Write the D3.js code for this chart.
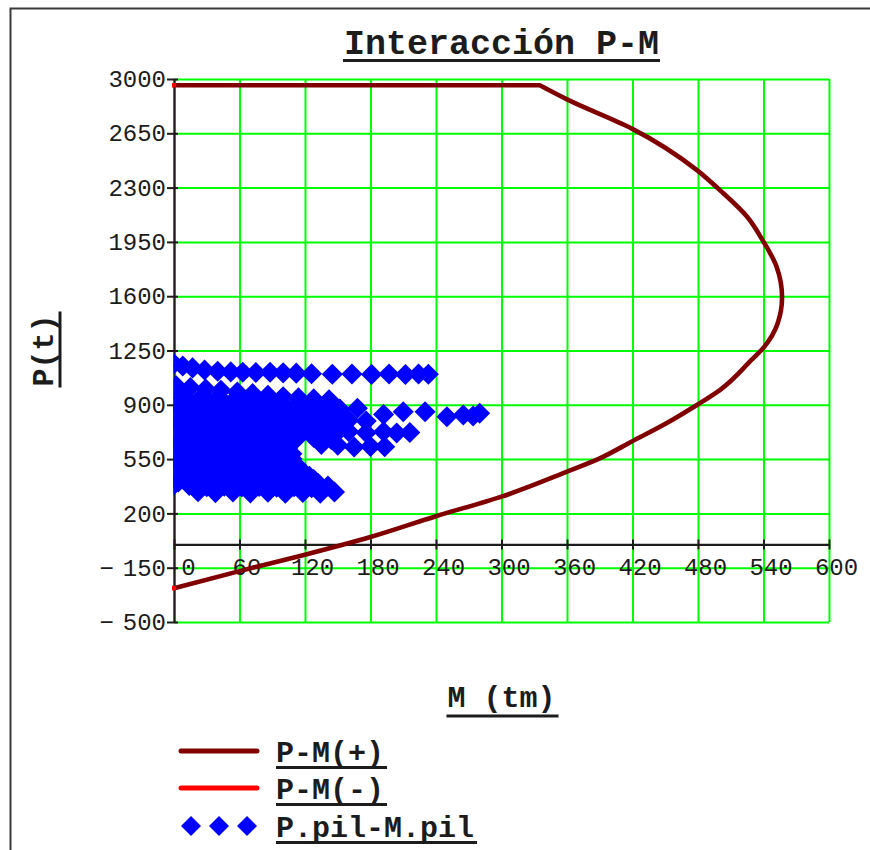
<!DOCTYPE html>
<html>
<head>
<meta charset="utf-8">
<script src="https://cdn.jsdelivr.net/npm/d3@7"></script>
<style>
  html, body { margin: 0; padding: 0; background: #fff; }
  svg { display: block; font-family: "Liberation Mono", "Courier New", monospace; }
</style>
</head>
<body>
<svg id="chart" width="870" height="850"></svg>
<script>
// Axis ticks
const xTicks = [0, 60, 120, 180, 240, 300, 360, 420, 480, 540, 600];
const yTicks = [-500, -150, 200, 550, 900, 1250, 1600, 1950, 2300, 2650, 3000];

// P-M(+) interaction curve: moment M (tm) and axial load P (t)
const pmPosM = [0, 335, 360, 419, 479, 500, 525, 540, 552, 557, 553, 540, 529, 500, 479, 451, 419, 390, 360, 300, 240, 180, 120, 60, 0];
const pmPosP = [2960, 2960, 2869, 2682, 2413, 2284, 2112, 1951, 1790, 1593, 1425, 1268, 1189, 995, 899, 781, 662, 555, 469, 308, 182, 48, -66, -172, -283];

// P-M(-) interaction curve (negative moments)
const pmNegM = [0, -335, -419, -500, -540, -557, -540, -479, -390, -300, -180, -60, 0];
const pmNegP = [2960, 2960, 2682, 2284, 1951, 1593, 1268, 899, 555, 308, 48, -172, -283];

// Pile loads: moment and axial force of each combination
const pileM = [
  0, 8, 17, 28, 40, 52, 63, 75, 88, 100, 112, 126, 145, 163, 181, 197, 212, 224, 233,
  2, 15, 29, 43, 58, 72, 86, 100, 114, 128, 142,
  8, 24, 40, 56, 72, 88,
  0, 16, 32, 48, 64, 80, 96, 112, 128,
  8, 24, 40, 56, 72, 88, 104, 120, 136, 152,
  168, 192, 210, 230, 250, 265, 274, 280,
  0, 16, 32, 48, 64, 80, 96, 112, 128, 144,
  0, 16, 32, 48, 64, 80, 96, 112, 128, 144, 160, 176,
  4, 20, 36, 52, 68, 84, 100, 116, 132, 148,
  8, 24, 40, 56, 72, 88, 104, 120, 136, 152,
  160, 176, 192, 204, 216,
  0, 16, 32, 48, 64, 80, 96, 112, 128,
  0, 16, 32, 48, 64, 80, 96, 112, 128, 144,
  135, 150, 165, 180, 193,
  4, 20, 36, 52, 68, 84, 100,
  8, 24, 40, 56, 72, 88, 104,
  0, 16, 32, 48, 64, 80, 96, 108,
  0, 16, 32, 48, 64, 80, 96, 108,
  4, 20, 36, 52, 68, 84, 100, 112,
  8, 24, 40, 56, 72, 88, 104, 118,
  0, 16, 32, 48, 64, 80, 96, 112, 124,
  0, 16, 32, 48, 64, 80, 96, 112, 128,
  4, 20, 36, 52, 68, 84, 100, 116, 132,
  0, 14, 30, 46, 62, 78, 94, 110, 126, 141,
  22, 38, 54, 70, 86, 102, 118, 134, 147
];
const pileP = [
  1165, 1150, 1138, 1124, 1116, 1112, 1110, 1108, 1110, 1106, 1104, 1100, 1097, 1099, 1096, 1098, 1095, 1099, 1097,
  1022, 1012, 1002, 993, 982, 972, 962, 952, 945, 938, 932,
  945, 940, 946, 938, 942, 936,
  908, 904, 910, 902, 906, 900, 905, 900, 904,
  880, 872, 878, 870, 875, 868, 874, 870, 866, 872,
  878, 838, 855, 855, 823, 834, 828, 846,
  845, 840, 846, 838, 843, 836, 842, 838, 835, 840,
  815, 810, 818, 808, 812, 806, 814, 810, 806, 812, 800, 795,
  782, 776, 784, 778, 780, 774, 782, 776, 780, 772,
  750, 744, 752, 746, 748, 742, 750, 745, 748, 740,
  728, 720, 726, 718, 722,
  718, 712, 720, 714, 716, 710, 718, 712, 708,
  686, 680, 688, 682, 684, 678, 686, 680, 690, 676,
  645, 640, 628, 632, 630,
  654, 648, 656, 650, 652, 646, 652,
  622, 616, 624, 618, 620, 614, 620,
  590, 584, 592, 586, 588, 582, 588, 584,
  558, 552, 560, 554, 556, 550, 556, 552,
  526, 520, 528, 522, 524, 518, 526, 512,
  494, 488, 496, 490, 492, 486, 494, 470,
  462, 456, 464, 458, 460, 454, 462, 456, 440,
  430, 424, 432, 426, 428, 422, 430, 426, 418,
  402, 396, 404, 398, 400, 394, 402, 396, 392,
  385, 380, 372, 376, 370, 374, 368, 372, 366, 377,
  340, 334, 338, 332, 336, 330, 335, 330, 338
];

const legendLabels = ["P-M(+)", "P-M(-)", "P.pil-M.pil"];

const COL_POS = "#800000", COL_NEG = "#ff0000", COL_PILE = "#0000ff", COL_GRID = "#00ff00", INK = "#1c1c1c";

const svg = d3.select("#chart");
const x = d3.scaleLinear().domain([0, 600]).range([174, 829]);
const y = d3.scaleLinear().domain([-500, 3000]).range([622, 79]);

// Outer region frame
svg.append("path")
  .attr("d", "M10.5,852 V8.5 H870")
  .attr("fill", "none").attr("stroke", "#3a3a3a").attr("stroke-width", 2);

// Grid
const gridH = svg.append("g").attr("transform", `translate(${x(0)},0)`)
  .call(d3.axisLeft(y).tickValues(yTicks).tickSize(-(x(600) - x(0))).tickFormat(""));
gridH.select(".domain").remove();
gridH.selectAll("line").attr("stroke", COL_GRID).attr("stroke-width", 2);

const gridV = svg.append("g").attr("transform", `translate(0,${y(-500)})`)
  .call(d3.axisBottom(x).tickValues(xTicks).tickSize(-(y(-500) - y(3000))).tickFormat(""));
gridV.select(".domain").remove();
gridV.selectAll("line").attr("stroke", COL_GRID).attr("stroke-width", 2);

// Y axis
const yAxis = svg.append("g").attr("transform", `translate(${x(0)},0)`)
  .call(d3.axisLeft(y).tickValues(yTicks).tickSizeInner(7).tickSizeOuter(0).tickPadding(1)
    .tickFormat(d => d < 0 ? "\u2212" + Math.abs(d) : String(d)));
yAxis.select(".domain").attr("stroke", INK).attr("stroke-width", 2.2);
yAxis.selectAll(".tick line").attr("x1", 4).attr("stroke", INK).attr("stroke-width", 2);
yAxis.selectAll(".tick text")
  .attr("fill", INK).attr("font-size", 24).attr("font-family", "Liberation Mono, monospace")
  .each(function (d) {
    if (d < 0) {
      const t = d3.select(this);
      t.text(null);
      t.append("tspan").text("\u2212");
      t.append("tspan").attr("dx", 9).text(Math.abs(d));
    }
  });

// X axis along P = 0
const xAxis = svg.append("g").attr("transform", `translate(0,${y(0)})`)
  .call(d3.axisBottom(x).tickValues(xTicks).tickSizeInner(5).tickSizeOuter(0));
xAxis.select(".domain").attr("stroke", INK).attr("stroke-width", 2.2);
xAxis.selectAll(".tick line").attr("y1", -5).attr("stroke", INK).attr("stroke-width", 2);
xAxis.selectAll(".tick text")
  .attr("fill", INK).attr("font-size", 24).attr("font-family", "Liberation Mono, monospace")
  .attr("y", 31).attr("dy", 0)
  .attr("dx", d => d === 0 ? 14 : 7);

// Clip to the plot region
const defs = svg.append("defs");
defs.append("clipPath").attr("id", "plotClip").append("rect")
  .attr("x", x(0) - 2).attr("y", y(3000) - 4)
  .attr("width", x(600) - x(0) + 4).attr("height", y(-500) - y(3000) + 8);
defs.append("clipPath").attr("id", "pileClip").append("rect")
  .attr("x", x(0) - 0.5).attr("y", y(3000))
  .attr("width", x(600) - x(0)).attr("height", y(-500) - y(3000));

const plot = svg.append("g").attr("clip-path", "url(#plotClip)");

// Interaction curve: straight cap at constant P, then a smooth branch where P falls steadily
function curvePath(M, P) {
  let k = 0;
  while (k + 1 < P.length && P[k + 1] === P[0]) k++;
  const idx = d3.range(P.length);
  const flat = d3.line().x(i => x(M[i])).y(i => y(P[i]))(idx.slice(0, k + 1));
  const branch = d3.line().curve(d3.curveMonotoneY).x(i => x(M[i])).y(i => y(P[i]))(idx.slice(k));
  return flat + branch.replace(/^M[^LC]*/, "");
}

plot.append("path").attr("d", curvePath(pmPosM, pmPosP))
  .attr("fill", "none").attr("stroke", COL_POS).attr("stroke-width", 4.6)
  .attr("stroke-linejoin", "round").attr("stroke-linecap", "round");
plot.append("path").attr("d", curvePath(pmNegM, pmNegP))
  .attr("fill", "none").attr("stroke", COL_NEG).attr("stroke-width", 4.6)
  .attr("stroke-linejoin", "round").attr("stroke-linecap", "round");

// Square diamond marker
const diamond = {
  draw(ctx, size) {
    const r = Math.sqrt(size / 2);
    ctx.moveTo(0, -r); ctx.lineTo(r, 0); ctx.lineTo(0, r); ctx.lineTo(-r, 0); ctx.closePath();
  }
};
const marker = d3.symbol().type(diamond).size(222);
const legendMarker = d3.symbol().type(diamond).size(200);

svg.append("g").attr("clip-path", "url(#pileClip)")
  .selectAll("path").data(d3.range(pileM.length)).join("path")
  .attr("transform", i => `translate(${x(pileM[i])},${y(pileP[i])})`)
  .attr("d", marker).attr("fill", COL_PILE);

// Title
{
  const cx = (x(0) + x(600)) / 2, base = 54;
  const t = svg.append("text").attr("x", cx).attr("y", base).attr("text-anchor", "middle")
    .attr("font-size", 35).attr("font-weight", "bold").attr("fill", INK).text("Interacción P-M");
  const len = t.node().getComputedTextLength();
  svg.append("rect").attr("x", cx - len / 2 - 1).attr("y", base + 5).attr("width", len + 2).attr("height", 3).attr("fill", INK);
}

// X axis title
{
  const cx = (x(0) + x(600)) / 2, base = 707;
  const t = svg.append("text").attr("x", cx).attr("y", base).attr("text-anchor", "middle")
    .attr("font-size", 30).attr("font-weight", "bold").attr("fill", INK).text("M (tm)");
  const len = t.node().getComputedTextLength();
  svg.append("rect").attr("x", cx - len / 2 - 1).attr("y", base + 7.5).attr("width", len + 4).attr("height", 3).attr("fill", INK);
}

// Y axis title
{
  const cy = (y(3000) + y(-500)) / 2, base = 53;
  const t = svg.append("text").attr("transform", `translate(${base},${cy}) rotate(-90)`)
    .attr("text-anchor", "middle").attr("font-size", 30).attr("font-weight", "bold").attr("fill", INK).text("P(t)");
  const len = t.node().getComputedTextLength();
  svg.append("rect").attr("x", base + 5.5).attr("y", cy - len / 2 - 3).attr("width", 3).attr("height", len + 4).attr("fill", INK);
}

// Legend
{
  const rows = [751, 788, 826];
  const textX = 276;
  svg.append("line").attr("x1", 181).attr("x2", 257).attr("y1", rows[0]).attr("y2", rows[0])
    .attr("stroke", COL_POS).attr("stroke-width", 5).attr("stroke-linecap", "round");
  svg.append("line").attr("x1", 181).attr("x2", 257).attr("y1", rows[1]).attr("y2", rows[1])
    .attr("stroke", COL_NEG).attr("stroke-width", 5).attr("stroke-linecap", "round");
  [191, 219, 247].forEach(cx => {
    svg.append("path").attr("transform", `translate(${cx},${rows[2]})`).attr("d", legendMarker).attr("fill", COL_PILE);
  });
  legendLabels.forEach((lab, i) => {
    const base = rows[i] + 10.5;
    const t = svg.append("text").attr("x", textX).attr("y", base)
      .attr("font-size", 30).attr("font-weight", "bold").attr("fill", INK).text(lab);
    const len = t.node().getComputedTextLength();
    svg.append("rect").attr("x", textX).attr("y", base + 4.5).attr("width", len + 3).attr("height", 3).attr("fill", INK);
  });
}
</script>
</body>
</html>
